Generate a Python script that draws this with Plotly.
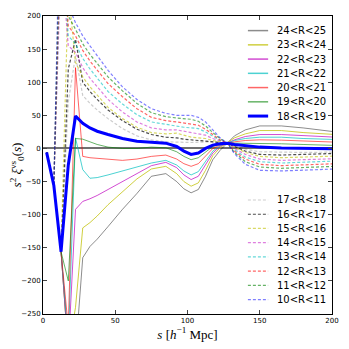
import plotly.graph_objects as go

# separation s [Mpc/h] at which the monopole is sampled
s_bins = [2.5, 7.5, 12.5, 17.5, 22.5, 27.5, 32.5, 37.5, 45, 55, 65, 75, 85, 92.5,
          97.5, 102.5, 107.5, 112.5, 117.5, 122.5, 127.5, 132.5, 140, 150, 165, 180, 202.5]

# solid curves (large voids)
xi_24_25 = [-6, -56, -156, -306, -310, -165, -148, -137, -118, -92, -68, -42, -38, -50,
            -61, -67, -62, -42, -17, -3, 8, 19, 28, 34, 34, 31, 25]
xi_23_24 = [-6, -56, -156, -306, -240, -120, -112, -102, -85, -66, -46, -31, -27, -38,
            -50, -57, -52, -33, -11, 1, 8, 16, 22, 27, 27, 24, 21]
xi_22_23 = [-6, -56, -156, -306, -92, -80, -76, -71, -62, -50, -38, -26, -21, -29,
            -40, -47, -42, -25, -7, 3, 8, 13, 18, 21, 21, 19, 17]
xi_21_22 = [-6, -56, -156, -290, 16, -32, -45, -44, -40, -34, -29, -22, -18, -25,
            -34, -40, -35, -19, -4, 4, 8, 12, 15, 17, 17, 15, 13.5]
xi_20_21 = [-6, -56, -156, -270, 122, -12, -14, -15, -17, -18, -16, -12, -10, -16,
            -23, -27, -23, -11, 0, 5, 8, 10, 12, 13, 12.5, 11, 9.5]
xi_19_20 = [-6, -56, -156, -200, 15, 14, 10, 6, 2, 0, 0, 2, 1, -5,
            -12, -17, -14, -5, 3, 6, 8, 8, 8, 7.5, 7, 6, 4.5]
xi_18_19 = [-6, -56, -156, -25, 49, 38, 31, 26, 21, 15, 11, 10, 8, 3,
            -4, -9, -7, 0, 5, 7, 8, 6, 4, 2, 0.5, 0, -0.5]

# dashed curves (small voids)
xi_17_18 = [-6, -56, -156, 70, 140, 80, 68, 58, 45, 30, 19, 13, 10, 9.5,
            9, 9, 9.5, 10, 10, 9, 8, 4, -1, -5, -6, -6, -5.5]
xi_16_17 = [-6, -56, -156, 120, 165, 100, 86, 74, 58, 42, 29, 21, 17, 16,
            14, 13, 12, 12, 11, 9, 8, 3, -4, -9, -10, -9, -7.5]
xi_15_16 = [-6, -56, -156, 240, 130, 108, 93, 80, 62, 45, 32, 24, 22, 23,
            20, 17, 16, 15, 12, 10, 8, 2, -6, -12, -14, -13, -11.5]
xi_14_15 = [-6, -56, 290, 155, 145, 122, 106, 93, 74, 55, 40, 31, 28, 28,
            26, 24, 23, 20, 15, 11, 8, 0, -9, -16, -18, -17, -15.5]
xi_13_14 = [-6, -56, 320, 170, 158, 136, 120, 106, 86, 67, 51, 40, 36, 34,
            32, 31, 30, 25, 18, 12, 8, -2, -13, -20, -22, -21, -19]
xi_12_13 = [-6, -56, 350, 185, 170, 148, 132, 118, 98, 78, 60, 47, 42, 40,
            38, 37, 35, 29, 21, 13, 8, -4, -16, -24, -26, -25, -23]
xi_11_12 = [-6, -56, 400, 200, 180, 158, 142, 128, 108, 87, 68, 54, 48, 46,
            45, 44, 41, 34, 24, 15, 8, -6, -20, -28, -30, -29, -27]
xi_10_11 = [-6, -56, 450, 215, 190, 170, 155, 140, 118, 93, 74, 60, 53, 50,
            50, 50, 47, 40, 28, 16, 8, -8, -24, -33, -34, -33, -31]

solid_names = ['24<R<25', '23<R<24', '22<R<23', '21<R<22', '20<R<21', '19<R<20', '18<R<19']
solid_data = [xi_24_25, xi_23_24, xi_22_23, xi_21_22, xi_20_21, xi_19_20, xi_18_19]
solid_colors = ['rgba(0,0,0,0.45)', 'rgba(191,191,0,0.75)', 'rgba(191,0,191,0.7)',
                'rgba(0,191,191,0.7)', 'rgba(255,0,0,0.6)', 'rgba(0,128,0,0.6)', 'blue']

dashed_names = ['17<R<18', '16<R<17', '15<R<16', '14<R<15', '13<R<14', '12<R<13', '11<R<12', '10<R<11']
dashed_data = [xi_17_18, xi_16_17, xi_15_16, xi_14_15, xi_13_14, xi_12_13, xi_11_12, xi_10_11]
dashed_colors = ['rgba(0,0,0,0.2)', 'rgba(0,0,0,0.7)', 'rgba(191,191,0,0.6)', 'rgba(191,0,191,0.5)',
                 'rgba(0,191,191,0.6)', 'rgba(255,0,0,0.6)', 'rgba(0,128,0,0.6)', 'rgba(0,0,255,0.5)']

fig = go.Figure()

for name, y, c in zip(dashed_names, dashed_data, dashed_colors):
    fig.add_trace(go.Scatter(x=s_bins, y=y, mode='lines', name=name,
                             line=dict(color=c, width=1.2, dash='3px,2px')))

for name, y, c in zip(solid_names, solid_data, solid_colors):
    w = 3 if name == '18<R<19' else 1
    fig.add_trace(go.Scatter(x=s_bins, y=y, mode='lines', name=name,
                             line=dict(color=c, width=w)))

# hand-made legends (two blocks, like the original)
def add_legend_block(names, colors, y_top, dashed):
    for i, (n, c) in enumerate(zip(names, colors)):
        yy = y_top - i * 0.0478
        w = 3 if n == '18<R<19' else (1.2 if dashed else 1.5)
        fig.add_shape(type='line', xref='paper', yref='paper', x0=0.709, x1=0.779, y0=yy, y1=yy,
                      line=dict(color=c, width=w, dash='3px,2px' if dashed else 'solid'))
        fig.add_annotation(xref='paper', yref='paper', x=0.803, y=yy,
                           text=n.replace('<', '&lt;'), showarrow=False,
                           xanchor='left', yanchor='middle',
                           font=dict(family='DejaVu Sans', size=10, color='black'))

add_legend_block(solid_names, solid_colors, 0.951, False)
add_legend_block(dashed_names, dashed_colors, 0.3826, True)

# page body has an 8px margin, so the figure is a bit smaller than the window
fig.update_layout(
    width=341, height=341,
    margin=dict(l=35, r=17, t=8, b=35),
    plot_bgcolor='white', paper_bgcolor='white',
    showlegend=False,
    xaxis=dict(range=[0, 200], tickvals=[0, 50, 100, 150, 200], ticks='inside', ticklen=4,
               showline=True, linecolor='black', linewidth=1, mirror='ticks', showgrid=False,
               zeroline=False, automargin=False,
               tickfont=dict(family='DejaVu Sans', size=7, color='black'),
               title=dict(text='<i>s</i> [<i>h</i><sup>−1</sup> Mpc]', standoff=3,
                          font=dict(family='Liberation Serif', size=13, color='black'))),
    yaxis=dict(range=[-250, 200], tickvals=list(range(-250, 201, 50)), ticks='inside', ticklen=4,
               showline=True, linecolor='black', linewidth=1, mirror='ticks', showgrid=False,
               zeroline=True, zerolinecolor='#707070', zerolinewidth=1.5, automargin=False,
               tickfont=dict(family='DejaVu Sans', size=7, color='black'),
               title=dict(text='<i>s</i><sup>2</sup> <i>ξ</i><sup>vs</sup><sub>0</sub>(<i>s</i>)', standoff=3,
                          font=dict(family='Liberation Serif', size=13, color='black'))),
)

fig.write_html('out.html')
